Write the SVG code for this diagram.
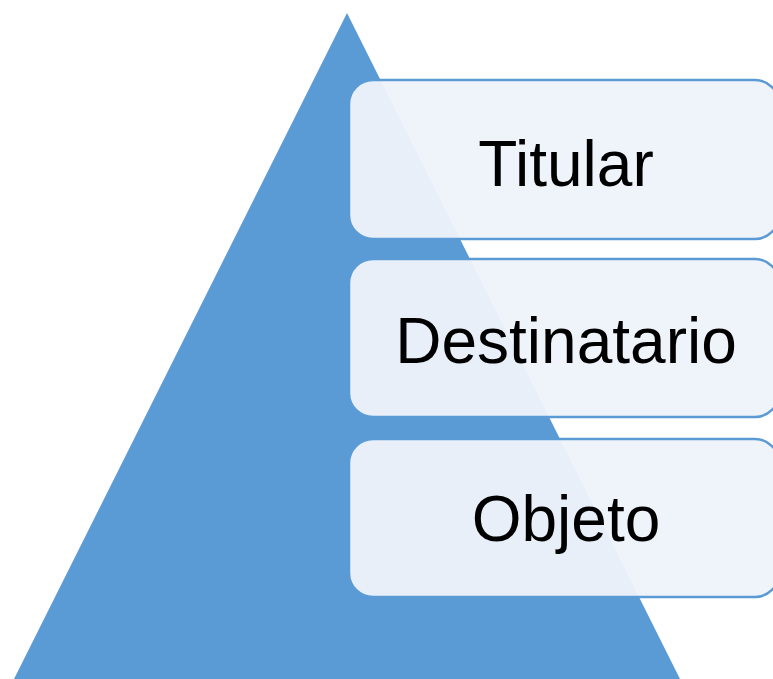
<svg xmlns="http://www.w3.org/2000/svg" width="773" height="679" viewBox="0 0 773 679">
<style>
.box{fill:#EEF3FA;fill-opacity:0.96;stroke:#5B9BD5;stroke-width:2.5}
.lbl{font-family:"Liberation Sans",Arial,sans-serif;font-size:64px;fill:#000;text-anchor:middle}
</style>
<rect width="773" height="679" fill="#fff"/>
<g id="pyramid"><polygon points="347,13 680,679 14,679" fill="#5B9BD5"/></g>
<g id="titular"><rect class="box" x="349" y="80" width="430" height="159" rx="24"/><text class="lbl" x="566" y="186">Titular</text></g>
<g id="destinatario"><rect class="box" x="349" y="259" width="430" height="158" rx="24"/><text class="lbl" x="566" y="363">Destinatario</text></g>
<g id="objeto"><rect class="box" x="349" y="439" width="430" height="158" rx="24"/><text class="lbl" x="566" y="541">Objeto</text></g>
<g id="connectors"/>
</svg>
